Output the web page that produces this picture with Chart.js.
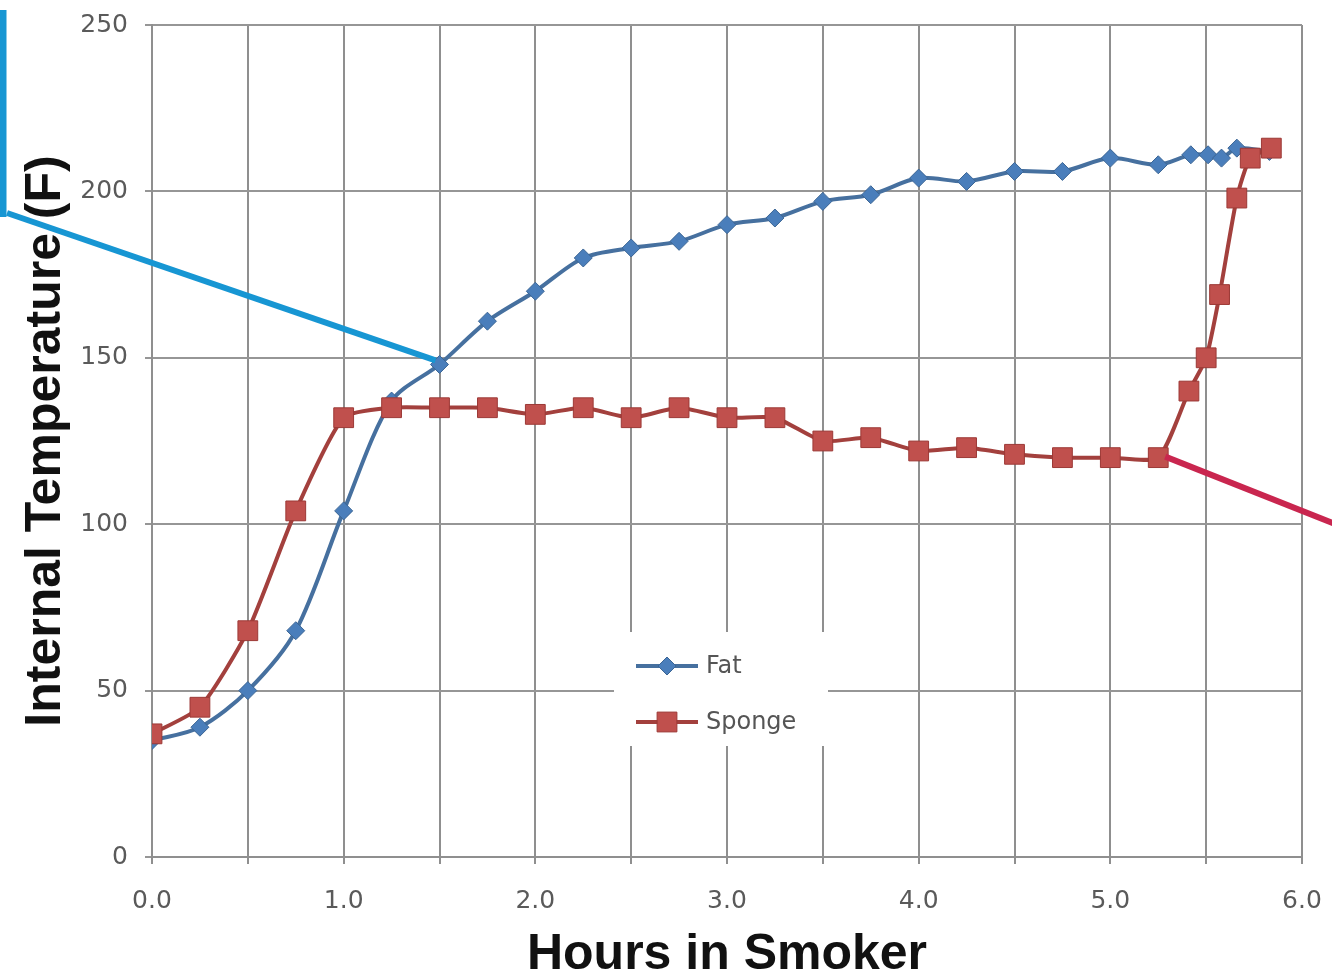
<!DOCTYPE html>
<html>
<head>
<meta charset="utf-8">
<title>Internal Temperature</title>
<script src="https://cdn.jsdelivr.net/npm/chart.js@4/dist/chart.umd.min.js"></script>
<style>
  body { margin: 0; background: #fff; }
  #wrap { width: 1332px; height: 980px; position: relative; }
</style>
</head>
<body>
<div id="wrap"><canvas id="myChart"></canvas></div>
<script>
// hours in smoker / internal temp (F)
var fatHours = [0, 0.25, 0.5, 0.75, 1.0, 1.25, 1.5, 1.75, 2.0, 2.25, 2.5, 2.75, 3.0, 3.25, 3.5, 3.75, 4.0, 4.25, 4.5, 4.75, 5.0, 5.25, 5.42, 5.51, 5.58, 5.66, 5.83];
var fatTemp = [35, 39, 50, 68, 104, 137, 148, 161, 170, 180, 183, 185, 190, 192, 197, 199, 204, 203, 206, 206, 210, 208, 211, 211, 210, 213, 212];

var spongeHours = [0, 0.25, 0.5, 0.75, 1.0, 1.25, 1.5, 1.75, 2.0, 2.25, 2.5, 2.75, 3.0, 3.25, 3.5, 3.75, 4.0, 4.25, 4.5, 4.75, 5.0, 5.25, 5.41, 5.5, 5.57, 5.66, 5.73, 5.84];
var spongeTemp = [37, 45, 68, 104, 132, 135, 135, 135, 133, 135, 132, 135, 132, 132, 125, 126, 122, 123, 121, 120, 120, 120, 140, 150, 169, 198, 210, 213];

var seriesNames = ['Fat', 'Sponge'];
var xTitle = 'Hours in Smoker';
var yTitle = 'Internal Temperature (F)';

function toPoints(xs, ys) {
  var pts = [];
  for (var i = 0; i < xs.length; i++) pts.push({x: xs[i], y: ys[i]});
  return pts;
}

var fatColor = '#4a7ebb', fatLine = '#46709f';
var spongeColor = '#c0504d', spongeLine = '#a3403d';

function marker(ctx, style, x, y, r, fill, stroke) {
  ctx.beginPath();
  if (style == 'rectRot') {
    ctx.moveTo(x, y - r); ctx.lineTo(x + r, y); ctx.lineTo(x, y + r); ctx.lineTo(x - r, y);
    ctx.closePath();
  } else {
    var s = r * Math.SQRT1_2;
    ctx.rect(x - s, y - s, 2 * s, 2 * s);
  }
  ctx.fillStyle = fill; ctx.fill();
  ctx.strokeStyle = stroke; ctx.lineWidth = 1; ctx.stroke();
}

// legend box inside the plot + the two callout lines
var extras = {
  id: 'extras',
  beforeDatasetsDraw: function(chart) {
    var ctx = chart.ctx;
    ctx.save();
    ctx.fillStyle = '#fff';
    ctx.fillRect(614, 632, 214, 114);
    var rows = [666, 722];
    chart.data.datasets.forEach(function(ds, i) {
      var y = rows[i];
      ctx.strokeStyle = ds.borderColor;
      ctx.lineWidth = 4;
      ctx.beginPath(); ctx.moveTo(636, y); ctx.lineTo(698, y); ctx.stroke();
      marker(ctx, ds.pointStyle, 667, y, ds.pointRadius, ds.pointBackgroundColor, ds.pointBorderColor);
      ctx.fillStyle = '#555';
      ctx.font = '24px "DejaVu Sans"';
      ctx.textBaseline = 'middle';
      ctx.fillText(ds.label, 706, y + 1);
    });
    ctx.restore();
  },
  afterDraw: function(chart) {
    var ctx = chart.ctx, xs = chart.scales.x, ys = chart.scales.y;
    ctx.save();
    ctx.lineCap = 'butt';
    // blue callout to the Fat point at 1.5 h
    var fx = xs.getPixelForValue(fatHours[6]) - 4, fy = ys.getPixelForValue(fatTemp[6]) - 4;
    ctx.strokeStyle = '#1796d3';
    ctx.lineWidth = 7;
    ctx.beginPath(); ctx.moveTo(3, 10); ctx.lineTo(3, 217); ctx.stroke();
    ctx.lineWidth = 6;
    ctx.beginPath(); ctx.moveTo(7, 213); ctx.lineTo(fx, fy); ctx.stroke();
    // red callout from the Sponge point at 5.25 h
    var sx = xs.getPixelForValue(spongeHours[21]) + 7, sy = ys.getPixelForValue(spongeTemp[21]) - 1;
    ctx.strokeStyle = '#c9264f';
    ctx.beginPath(); ctx.moveTo(sx, sy); ctx.lineTo(1340, 526); ctx.stroke();
    ctx.restore();
  }
};

var ctx = document.getElementById('myChart');
var myChart = new Chart(ctx, {
  type: 'line',
  data: {
    datasets: [{
      label: seriesNames[0],
      data: toPoints(fatHours, fatTemp),
      borderColor: fatLine,
      borderWidth: 4,
      pointStyle: 'rectRot',
      pointRadius: 9,
      pointBackgroundColor: fatColor,
      pointBorderColor: '#3b6594',
      pointBorderWidth: 1,
      tension: 0.3,
      order: 2
    }, {
      label: seriesNames[1],
      data: toPoints(spongeHours, spongeTemp),
      borderColor: spongeLine,
      borderWidth: 4,
      pointStyle: 'rect',
      pointRadius: 14,
      pointBackgroundColor: spongeColor,
      pointBorderColor: '#9c3936',
      pointBorderWidth: 1,
      tension: 0.2,
      order: 1
    }]
  },
  options: {
    responsive: true,
    maintainAspectRatio: false,
    animation: false,
    layout: { padding: { top: 25, right: 30, left: 0, bottom: 0 } },
    plugins: { legend: { display: false }, tooltip: { enabled: false } },
    scales: {
      x: {
        type: 'linear',
        min: 0, max: 6,
        afterFit: function(s) { s.height = 123; s.paddingLeft = 0; s.paddingRight = 0; },
        grid: { color: '#8f8f8f', lineWidth: 2, tickLength: 7 },
        border: { color: '#8f8f8f', width: 2 },
        ticks: {
          stepSize: 0.5, autoSkip: false, maxRotation: 0, padding: 22,
          color: '#5a5a5a', font: { family: 'DejaVu Sans', size: 25 },
          callback: function(v) { return v % 1 === 0 ? v.toFixed(1) : ''; }
        },
        title: {
          display: true, text: xTitle, color: '#111',
          font: { family: 'Liberation Sans', size: 50, weight: 'bold', lineHeight: 1 },
          padding: { top: 0, bottom: 0 }
        }
      },
      y: {
        min: 0, max: 250,
        afterFit: function(s) { s.width = 152; s.paddingTop = 0; s.paddingBottom = 0; },
        grid: { color: '#969696', lineWidth: 2, tickLength: 7 },
        border: { color: '#8f8f8f', width: 2 },
        ticks: {
          stepSize: 50, padding: 17,
          color: '#5a5a5a', font: { family: 'DejaVu Sans', size: 25 }
        },
        title: {
          display: true, text: yTitle, color: '#111',
          font: { family: 'Liberation Sans', size: 50, weight: 'bold', lineHeight: 1 },
          padding: { top: 21, bottom: 0 }
        }
      }
    }
  },
  plugins: [extras]
});
</script>
</body>
</html>
